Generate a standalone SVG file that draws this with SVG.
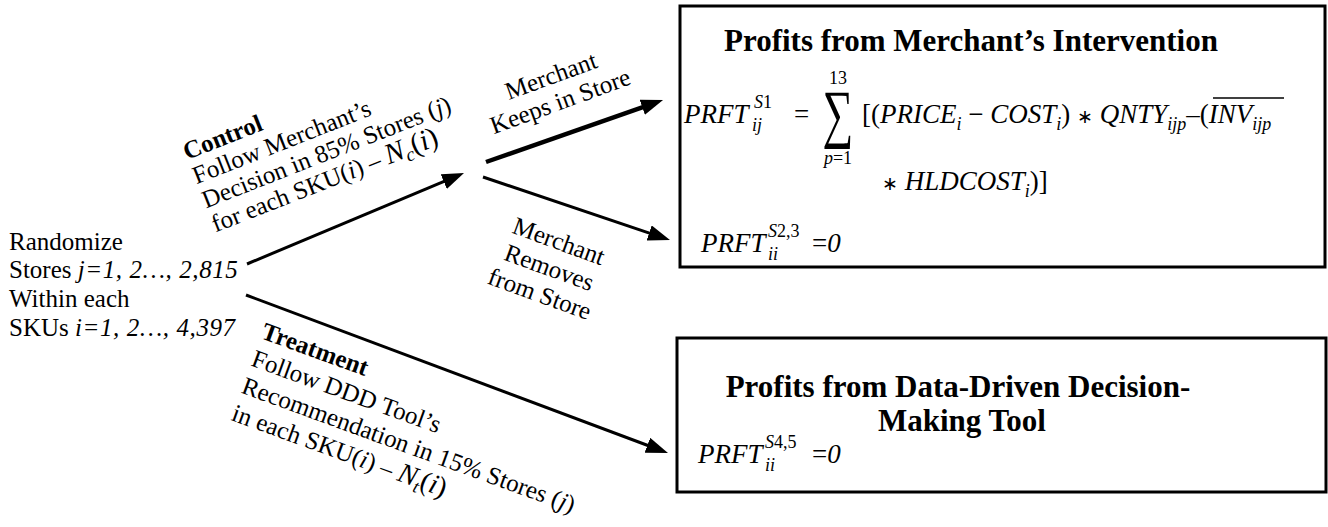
<svg xmlns="http://www.w3.org/2000/svg" width="1328" height="527" viewBox="0 0 1328 527">
<style>
  .t{font-family:"Liberation Serif","Times New Roman",serif;font-size:25px;fill:#000}
  .b{font-weight:bold}
  .i{font-style:italic}
  .ls{letter-spacing:0.6px}
  .ttl{font-family:"Liberation Serif","Times New Roman",serif;font-weight:bold;font-size:31px;fill:#000}
  .m{font-family:"Liberation Serif","Times New Roman",serif;font-style:italic;font-size:27px;fill:#000}
  .u{font-style:normal}
  .s{font-size:18px}
  .ast{font-size:19px;font-style:normal}
  .box{fill:#fff;stroke:#000;stroke-width:3}
  .ln{stroke:#000;stroke-width:3;fill:none}
  .thick{stroke-width:4.5}
</style>
<defs>
  <marker id="ah" markerUnits="userSpaceOnUse" markerWidth="22" markerHeight="16" refX="12" refY="8" orient="auto">
    <path d="M0,0 L22,8 L0,16 Z" fill="#000"/>
  </marker>
</defs>

<!-- source: randomisation of stores within SKUs -->
<g id="randomize">
  <text class="t" x="9" y="250">Randomize</text>
  <text class="t" x="9" y="278">Stores <tspan class="i ls">j=1, 2…, 2,815</tspan></text>
  <text class="t" x="9" y="307">Within each</text>
  <text class="t" x="9" y="336">SKUs <tspan class="i ls">i=1, 2…, 4,397</tspan></text>
</g>

<!-- connectors -->
<g id="connectors">
  <path class="ln" d="M247,264 L454.8,176.9" marker-end="url(#ah)"/>
  <path class="ln thick" d="M486,162 L653.6,103.3" marker-end="url(#ah)"/>
  <path class="ln" d="M483,177 L660.5,236.8" marker-end="url(#ah)"/>
  <path class="ln" d="M246,295 L658.6,449.5" marker-end="url(#ah)"/>
</g>

<!-- control arm label -->
<g id="control" transform="translate(187,160) rotate(-21.5)">
  <text class="t b" x="0" y="0">Control</text>
  <text class="t" x="0" y="26" font-size="26">Follow Merchant’s</text>
  <text class="t" x="0" y="52" font-size="26">Decision in 85% Stores (<tspan class="i">j</tspan>)</text>
  <text class="t" x="0" y="78" font-size="26">for each SKU(<tspan class="i">i</tspan>) – <tspan class="i" font-size="29">N</tspan><tspan class="i" font-size="19" dy="5">c</tspan><tspan font-size="29" dy="-5">(</tspan><tspan class="i" font-size="29">i</tspan><tspan font-size="29">)</tspan></text>
</g>

<!-- treatment arm label -->
<g id="treatment" transform="translate(260,338) rotate(20)">
  <text class="t b" x="0" y="0">Treatment</text>
  <text class="t" x="0" y="29">Follow DDD Tool’s</text>
  <text class="t" x="0" y="58">Recommendation in 15% Stores (<tspan class="i">j</tspan>)</text>
  <text class="t" x="0" y="87">in each SKU(<tspan class="i">i</tspan>) – <tspan class="i" font-size="28">N</tspan><tspan class="i" font-size="18" dy="5">t</tspan><tspan font-size="28" dy="-5">(</tspan><tspan class="i" font-size="28">i</tspan><tspan font-size="28">)</tspan></text>
</g>

<!-- merchant branch labels -->
<g id="keeps" transform="translate(563,109) rotate(-20)">
  <text class="t" x="0" y="-27" text-anchor="middle">Merchant</text>
  <text class="t" x="0" y="0" text-anchor="middle">Keeps in Store</text>
</g>
<g id="removes" transform="translate(556,249) rotate(20)">
  <text class="t" x="0" y="0" text-anchor="middle">Merchant</text>
  <text class="t" x="0" y="28" text-anchor="middle">Removes</text>
  <text class="t" x="0" y="56" text-anchor="middle">from Store</text>
</g>

<!-- merchant intervention profit box -->
<g id="merchant-box">
  <rect class="box" x="680" y="6" width="645" height="261"/>
  <text class="ttl" x="971" y="51" text-anchor="middle">Profits from Merchant’s Intervention</text>
  <text class="m" x="684" y="123">PRFT</text>
  <text class="m s" x="752" y="131">ij</text>
  <text class="m s" x="754" y="108">S<tspan class="u">1</tspan></text>
  <text class="m u" x="794" y="123">=</text>
  <text class="m u" font-size="60" text-anchor="middle" transform="translate(838,135) scale(1.6,2.4)">∑</text>
  <text class="m u s" x="838" y="84" text-anchor="middle">13</text>
  <text class="m s" x="838" y="164" text-anchor="middle">p<tspan class="u">=1</tspan></text>
  <text class="m" x="862" y="123"><tspan class="u">[(</tspan>PRICE<tspan class="s" dy="7">i</tspan><tspan class="u" dy="-7"> − </tspan>COST<tspan class="s" dy="7">i</tspan><tspan class="u" dy="-7">) </tspan><tspan class="ast">∗</tspan><tspan class="u"> </tspan>QNTY<tspan class="s" dy="7">ijp</tspan><tspan class="u" dy="-7">–(</tspan>INV<tspan class="s" dy="7">ijp</tspan></text>
  <path d="M1213,98 L1284,98" stroke="#000" stroke-width="1.5"/>
  <text class="m" x="882" y="190"><tspan class="ast">∗</tspan><tspan class="u"> </tspan>HLDCOST<tspan class="s" dy="7">i</tspan><tspan class="u" dy="-7">)]</tspan></text>
  <text class="m" x="701" y="252">PRFT</text>
  <text class="m s" x="768" y="260">ii</text>
  <text class="m s" x="768" y="237">S<tspan class="u">2,3</tspan></text>
  <text class="m" x="812" y="252"><tspan class="u">=</tspan>0</text>
</g>

<!-- data-driven tool profit box -->
<g id="tool-box">
  <rect class="box" x="677" y="338" width="649" height="154"/>
  <text class="ttl" x="958" y="397" text-anchor="middle">Profits from Data-Driven Decision-</text>
  <text class="ttl" x="962" y="431" text-anchor="middle">Making Tool</text>
  <text class="m" x="698" y="463">PRFT</text>
  <text class="m s" x="765" y="471">ii</text>
  <text class="m s" x="765" y="448">S<tspan class="u">4,5</tspan></text>
  <text class="m" x="812" y="463"><tspan class="u">=</tspan>0</text>
</g>
</svg>
